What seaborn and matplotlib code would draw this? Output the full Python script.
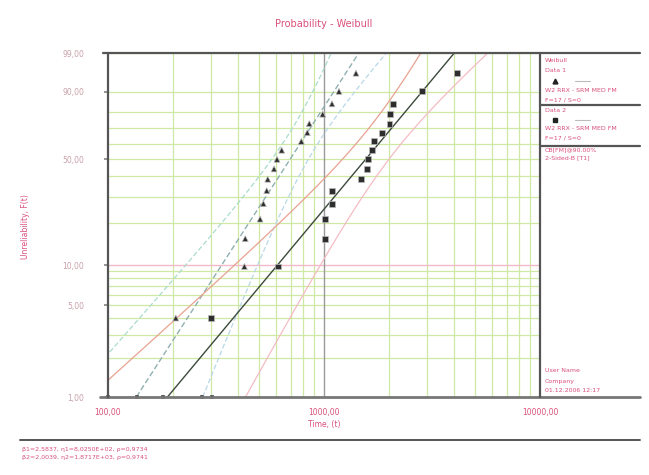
import numpy as np
import pandas as pd
import matplotlib
matplotlib.use("Agg")
import matplotlib.pyplot as plt
import seaborn as sns
from matplotlib.lines import Line2D

# ---------------- data ----------------
title = "Probability - Weibull"
x_label = "Time, (t)"
y_label = "Unreliability, F(t)"
x_ticks = [100, 1000, 10000]
x_tick_labels = ["100,00", "1000,00", "10000,00"]
y_ticks = [1, 5, 10, 50, 90, 99]
y_tick_labels = ["1,00", "5,00", "10,00", "50,00", "90,00", "99,00"]
y_grid = [1, 2, 3, 4, 5, 6, 7, 8, 9, 10, 20, 30, 40, 50, 60, 70, 80, 90, 99]
x_grid = [200, 300, 400, 500, 600, 700, 800, 900,
          2000, 3000, 4000, 5000, 6000, 7000, 8000, 9000]

# unreliability (%) of the plotted points, ranks 1..17
unreliability = [4.02, 9.77, 15.52, 21.26, 27.01, 32.76, 38.51, 44.25, 50.00,
                 55.75, 61.49, 67.24, 72.99, 78.74, 84.48, 90.23, 95.98]
data1_times = [206, 428, 432, 506, 524, 543, 549, 587, 606, 637,
               785, 837, 855, 986, 1089, 1173, 1406]
data2_times = [300, 614, 1008, 1012, 1085, 1092, 1484, 1577, 1604, 1663,
               1704, 1850, 2010, 2025, 2086, 2834, 4116]
axis_marks = [100, 136, 180, 271, 302]

# confidence-bound spread (variance terms in ln t)
bounds1 = (0.035, 0.022)
bounds2 = (0.0574, 0.030)

legend_lines = ["Weibull", "Data 1", "W2 RRX - SRM MED FM", "F=17 / S=0",
                "Data 2", "W2 RRX - SRM MED FM", "F=17 / S=0",
                "CB[FM]@90.00%", "2-Sided-B [T1]"]
footer_lines = ["User Name", "Company", "01.12.2006 12:17"]

# ---------------- helpers ----------------
def wb(p_percent):
    p = np.asarray(p_percent, dtype=float) / 100.0
    return np.log(-np.log(1.0 - p))

W_LO, W_HI = wb(1), wb(99)

def rrx_fit(times):
    w = wb(unreliability)
    b, a = np.polyfit(w, np.log(times), 1)
    return a, b  # ln t = a + b*W

sns.set_theme(style="white")
plt.rcParams['font.family'] = ['DejaVu Sans']
red = '#d9507a'

fig = plt.figure(figsize=(6.49, 4.75), dpi=100)
L, R, T, B = 108, 540, 53, 397
ax = fig.add_axes([L / 649, 1 - B / 475, (R - L) / 649, (B - T) / 475])
ax.set_xscale('log')
ax.set_xlim(100, 10000)
ax.set_ylim(W_LO, W_HI)

# grid
for g in x_grid:
    ax.axvline(g, color='#cfe8a6', lw=0.9, zorder=0)
for g in y_grid:
    c = '#f2b9c8' if g == 10 else '#cfe8a6'
    ax.axhline(wb(g), color=c, lw=1.0 if g == 10 else 0.9, zorder=0)
ax.axvline(1000, color='#9a9a9a', lw=1.0, zorder=1)

# lines: fits and bounds
wline = np.linspace(W_LO, W_HI, 200)
styles = {
    1: dict(fit=('#8fb0b0', (4, 2)), lo=('#a9dccc', (4, 2)), hi=('#b8d8e8', (4, 2))),
    2: dict(fit=('#3c4a3c', ''), lo=('#e8a290', ''), hi=('#f4bcc4', '')),
}
for k, times, bd in [(1, data1_times, bounds1), (2, data2_times, bounds2)]:
    a, b = rrx_fit(times)
    lt = a + b * wline
    off = np.sqrt(bd[0] + bd[1] * wline ** 2)
    for name, vals in [('fit', lt), ('lo', lt - off), ('hi', lt + off)]:
        col, dash = styles[k][name]
        df = pd.DataFrame({'t': np.exp(vals), 'w': wline})
        sns.lineplot(data=df, x='t', y='w', ax=ax, sort=False, estimator=None,
                     color=col, lw=1.0 if name == 'fit' else 0.9,
                     dashes=False, zorder=3)
        if dash:
            ax.lines[-1].set_dashes(dash)

# points
pts = pd.DataFrame({
    't': data1_times + data2_times,
    'w': list(wb(unreliability)) * 2,
    'series': ['Data 1'] * 17 + ['Data 2'] * 17,
})
sns.scatterplot(data=pts, x='t', y='w', style='series',
                markers={'Data 1': '^', 'Data 2': 's'}, color='#2e2e2e',
                edgecolor='#b8b8b8', linewidth=0.5, s=18, ax=ax, legend=False,
                zorder=5)
marks = pd.DataFrame({'t': axis_marks, 'w': [W_LO] * len(axis_marks)})
sns.scatterplot(data=marks, x='t', y='w', marker='s', color='#2e2e2e',
                s=12, ax=ax, legend=False, zorder=6, clip_on=False)

# axes style
for s in ax.spines.values():
    s.set_visible(False)
ax.set_xticks(x_ticks)
ax.set_xticklabels(x_tick_labels)
ax.xaxis.set_minor_locator(matplotlib.ticker.NullLocator())
ax.set_yticks(list(wb(y_ticks)))
ax.set_yticklabels(y_tick_labels)
ax.tick_params(axis='x', colors=red, labelsize=5.5, length=0, pad=8)
ax.tick_params(axis='y', colors=red, labelsize=5.5, length=3, pad=14,
               left=True, color='#888888')
for lab in ax.get_yticklabels():
    lab.set_color('#c8a0a8')
ax.set_xlabel(x_label, color=red, fontsize=5.5, labelpad=2)
ax.set_ylabel('')
fig.text(25 / 649, 1 - 227 / 475, y_label, rotation=90, color=red,
         fontsize=5.5, ha='center', va='center')
fig.text(324 / 649, 1 - 24 / 475, title, color=red, fontsize=7,
         ha='center', va='center')

# frame lines
def fline(x0, y0, x1, y1, c='#555555', lw=1.6):
    fig.add_artist(Line2D([x0 / 649, x1 / 649], [1 - y0 / 475, 1 - y1 / 475],
                          color=c, lw=lw))
fline(103, T, 640, T)
fline(100, B, 640, B, c='#777777', lw=2.0)
fline(L, T, L, B)
fline(R, T, R, B)
fline(540, 105, 640, 105)
fline(540, 146, 640, 146)
fline(20, 440, 640, 440, lw=1.4)

# right panel texts
ys = [60, 70, 91, 100, 110, 129, 138, 150, 158]
for y, s in zip(ys, legend_lines):
    fig.text(545 / 649, 1 - y / 475, s, color=red, fontsize=4.5,
             ha='left', va='center')
for y, mk in [(81, '^'), (120, 's')]:
    fig.add_artist(Line2D([555 / 649], [1 - y / 475], marker=mk, color='#222222',
                          markersize=3.5, lw=0))
    fline(575, y, 590, y, c='#bbbbbb', lw=0.8)
for y, s in zip([371, 381, 390], footer_lines):
    fig.text(545 / 649, 1 - y / 475, s, color=red, fontsize=4.5,
             ha='left', va='center')

# bottom parameter text
params = []
for k, times in [(1, data1_times), (2, data2_times)]:
    a, b = rrx_fit(times)
    w = wb(unreliability)
    rho = np.corrcoef(w, np.log(times))[0, 1]
    params.append(f"β{k}={1 / b:.4f}, η{k}={np.exp(a):.4E}, ρ={rho:.4f}".replace('.', ','))
for y, s in zip([449, 458], params):
    fig.text(22 / 649, 1 - y / 475, s, color=red, fontsize=4.5,
             ha='left', va='center')

fig.savefig('out.png', dpi=100)
